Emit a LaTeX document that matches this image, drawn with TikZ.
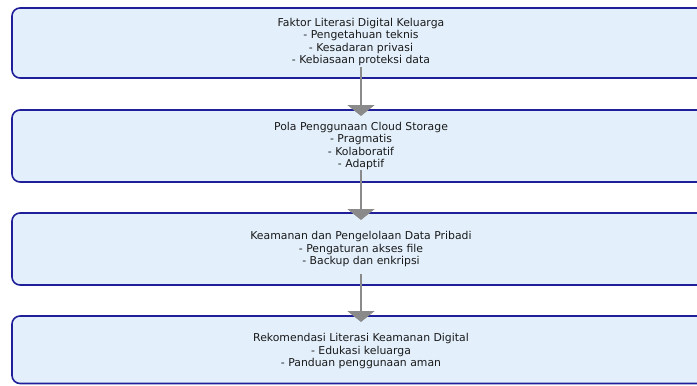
\documentclass[tikz,border=0pt]{standalone}
\usepackage{fontspec}
\setmainfont{DejaVu Sans}
\usetikzlibrary{arrows.meta}
\definecolor{boxfill}{HTML}{E3F0FC}
\definecolor{boxline}{HTML}{1F1F9A}
\definecolor{arrgray}{HTML}{8A8A8A}
\begin{document}
\begin{tikzpicture}[x=1bp,y=-1bp,
  flowbox/.style={draw=boxline, fill=boxfill, line width=1.6bp, rounded corners=8bp},
  boxtext/.style={align=center, font=\fontsize{10.9}{12.4}\selectfont, text=black!90},
  flowarrow/.style={draw=arrgray, line width=2bp, -{Triangle[width=27bp,length=11bp]}}]
\useasboundingbox (0,0) rectangle (697,385);
\begin{scope}
\clip (0,0) rectangle (697,385);
\path[flowbox] (12,8) rectangle (710,78);
\path[flowbox] (12,110) rectangle (710,182);
\path[flowbox] (12,213) rectangle (710,285);
\path[flowbox] (12,316) rectangle (710,383.5);
\end{scope}
\node[boxtext] (t1) at (361,42) {Faktor Literasi Digital Keluarga\\- Pengetahuan teknis\\- Kesadaran privasi\\- Kebiasaan proteksi data};
\node[boxtext] (t2) at (361,146) {Pola Penggunaan Cloud Storage\\- Pragmatis\\- Kolaboratif\\- Adaptif};
\node[boxtext] (t3) at (361,249) {Keamanan dan Pengelolaan Data Pribadi\\- Pengaturan akses file\\- Backup dan enkripsi};
\node[boxtext] (t4) at (361,351) {Rekomendasi Literasi Keamanan Digital\\- Edukasi keluarga\\- Panduan penggunaan aman};
\coordinate (a1s) at (361,67);
\coordinate (a1e) at (361,116);
\coordinate (a2s) at (361,170);
\coordinate (a2e) at (361,220);
\coordinate (a3s) at (361,274);
\coordinate (a3e) at (361,322);
\draw[flowarrow] (a1s) -- (a1e);
\draw[flowarrow] (a2s) -- (a2e);
\draw[flowarrow] (a3s) -- (a3e);
\end{tikzpicture}
\end{document}
